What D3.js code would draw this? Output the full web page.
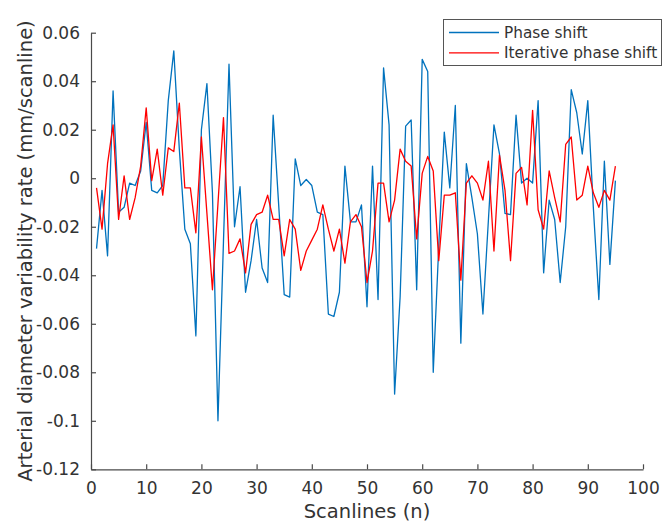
<!DOCTYPE html>
<html>
<head>
<meta charset="utf-8">
<script src="https://cdn.jsdelivr.net/npm/d3@7"></script>
<style>
  html, body { margin: 0; padding: 0; background: #fff; }
  svg { display: block; font-family: "DejaVu Sans", Verdana, sans-serif; }
</style>
</head>
<body>
<svg id="chart" width="664" height="531"></svg>
<script>
// Scanline index (1..95)
const scanlines = d3.range(1, 96);

// Diameter variability rate, plain phase-shift estimate (mm/scanline)
const phaseShift = [
  -0.029, -0.005, -0.032, 0.036, -0.014, -0.012, -0.002, -0.003, 0.003, 0.023,
  -0.005, -0.006, -0.003, 0.032, 0.0525, 0.012, -0.021, -0.027, -0.065, 0.020,
  0.039, -0.006, -0.100, -0.026, 0.047, -0.020, -0.0035, -0.047, -0.034, -0.017,
  -0.037, -0.043, 0.026, -0.011, -0.048, -0.049, 0.008, -0.003, -0.0005, -0.003,
  -0.014, -0.015, -0.056, -0.057, -0.047, 0.005, -0.018, -0.018, -0.011, -0.053,
  0.005, -0.050, 0.0455, 0.022, -0.089, -0.049, 0.0215, 0.024, -0.046, 0.049,
  0.044, -0.080, -0.028, 0.019, -0.004, 0.030, -0.068, 0.006, -0.008, -0.023,
  -0.056, -0.017, 0.022, 0.010, -0.0145, -0.015, 0.026, -0.002, 0.000, -0.002,
  0.032, -0.039, -0.009, -0.017, -0.043, -0.020, 0.0365, 0.027, 0.010, 0.032,
  -0.012, -0.050, 0.007, -0.0355, -0.001
];

// Diameter variability rate, iterative phase-shift estimate (mm/scanline)
const iterativePhaseShift = [
  -0.004, -0.021, 0.006, 0.022, -0.017, 0.001, -0.017, -0.008, 0.005, 0.029,
  -0.001, 0.012, -0.007, 0.0125, 0.011, 0.031, -0.004, -0.004, -0.0225, 0.017,
  -0.0145, -0.046, -0.0105, 0.025, -0.031, -0.030, -0.025, -0.039, -0.019, -0.015,
  -0.014, -0.007, -0.017, -0.017, -0.032, -0.017, -0.021, -0.038, -0.030, -0.0255,
  -0.021, -0.011, -0.021, -0.030, -0.021, -0.035, -0.018, -0.015, -0.020, -0.043,
  -0.030, -0.002, -0.002, -0.018, -0.009, 0.012, 0.007, 0.005, -0.025, 0.002,
  0.009, 0.003, -0.034, -0.007, -0.007, -0.006, -0.042, -0.002, 0.001, -0.002,
  -0.009, 0.007, -0.030, 0.0095, -0.005, -0.034, 0.002, 0.0045, -0.011, 0.028,
  -0.013, -0.021, 0.003, -0.008, -0.018, 0.014, 0.017, -0.009, -0.007, 0.005,
  -0.006, -0.012, -0.005, -0.009, 0.005
];

const xTicks = [0, 10, 20, 30, 40, 50, 60, 70, 80, 90, 100];
const yTicks = [-0.12, -0.1, -0.08, -0.06, -0.04, -0.02, 0, 0.02, 0.04, 0.06];
const yTickLabels = ["-0.12", "-0.1", "-0.08", "-0.06", "-0.04", "-0.02", "0", "0.02", "0.04", "0.06"];

const seriesNames = ["Phase shift", "Iterative phase shift"];
const seriesColors = ["#0072BD", "#FF0000"];

const svg = d3.select("#chart");
const axisColor = "#4a4a4a";
const textColor = "#333333";

const x = d3.scaleLinear().domain([0, 100]).range([91, 643]);
const y = d3.scaleLinear().domain([-0.12, 0.06]).range([469.3, 32.7]);

// Axes (ticks point inward, no box)
const xAxis = svg.append("g")
  .attr("transform", `translate(0,${y(-0.12)})`)
  .call(d3.axisBottom(x).tickValues(xTicks).tickSizeInner(-5).tickSizeOuter(0).tickPadding(13));
const yAxis = svg.append("g")
  .attr("transform", `translate(${x(0)},0)`)
  .call(d3.axisLeft(y).tickValues(yTicks).tickSizeInner(-5).tickSizeOuter(0).tickPadding(11)
    .tickFormat((d, i) => yTickLabels[i]));

[xAxis, yAxis].forEach(g => {
  g.select(".domain").attr("stroke", axisColor).attr("stroke-width", 1.2);
  g.selectAll(".tick line").attr("stroke", axisColor).attr("stroke-width", 1.2);
  g.selectAll(".tick text")
    .attr("fill", textColor)
    .style("font-size", "17px")
    .style("font-family", "'DejaVu Sans', Verdana, sans-serif");
});

// Series lines
const line = d3.line()
  .x((d, i) => x(scanlines[i]))
  .y(d => y(d));

[phaseShift, iterativePhaseShift].forEach((vals, k) => {
  svg.append("path")
    .datum(vals)
    .attr("fill", "none")
    .attr("stroke", seriesColors[k])
    .attr("stroke-width", 1.3)
    .attr("stroke-linejoin", "round")
    .attr("d", line);
});

// Axis titles
svg.append("text")
  .attr("x", (x(0) + x(100)) / 2)
  .attr("y", 518)
  .attr("text-anchor", "middle")
  .attr("fill", textColor)
  .style("font-size", "19.5px")
  .text("Scanlines (n)");

svg.append("text")
  .attr("transform", `translate(32,${(y(-0.12) + y(0.06)) / 2}) rotate(-90)`)
  .attr("text-anchor", "middle")
  .attr("fill", textColor)
  .style("font-size", "19.5px")
  .text("Arterial diameter variability rate (mm/scanline)");

// Legend
const legend = svg.append("g");
legend.append("rect")
  .attr("x", 443.5).attr("y", 19.5)
  .attr("width", 218).attr("height", 46)
  .attr("fill", "#fff")
  .attr("stroke", "#555")
  .attr("stroke-width", 1);

seriesNames.forEach((name, k) => {
  const ly = 32.5 + k * 20.3;
  legend.append("line")
    .attr("x1", 449).attr("x2", 499)
    .attr("y1", ly).attr("y2", ly)
    .attr("stroke", seriesColors[k])
    .attr("stroke-width", 1.3);
  legend.append("text")
    .attr("x", 504).attr("y", ly)
    .attr("dy", "0.35em")
    .attr("fill", textColor)
    .style("font-size", "15.3px")
    .text(name);
});
</script>
</body>
</html>
